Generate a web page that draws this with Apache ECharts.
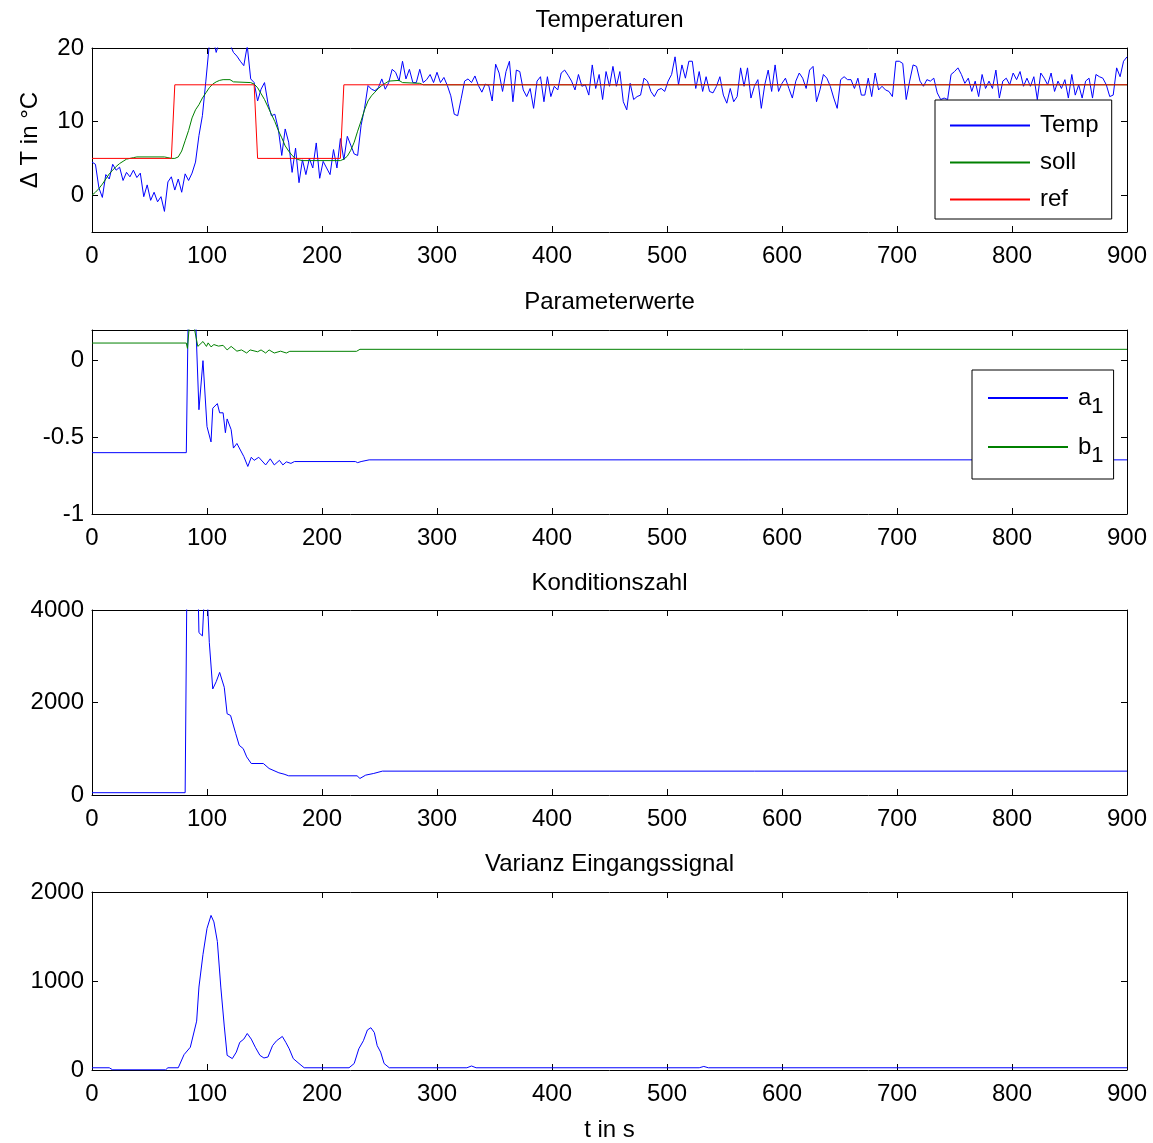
<!DOCTYPE html>
<html><head><meta charset="utf-8">
<script src="https://cdn.jsdelivr.net/npm/echarts@6/dist/echarts.min.js"></script>
<style>html,body{margin:0;padding:0;background:#fff}#c{width:1153px;height:1143px}</style>
</head><body><div id="c"></div>
<script>
// ---------- data ----------
const dt = 3; // sample time of Temp in s
const tempValues = [
 4.5, 4.2, 1.0, -0.3, 2.8, 2.2, 4.2, 3.4, 3.8, 2.0,
 3.1, 2.5, 3.4, 2.4, 3.0, -0.2, 1.4, -0.7, 0.4, -0.9,
 -0.2, -2.2, 1.8, 2.5, 0.7, 2.2, 0.4, 2.9, 2.0, 3.0,
 4.5, 8.1, 10.8, 15.5, 20.5, 21.5, 19.4, 21.0, 22.0, 20.5,
 20.5, 19.4, 18.9, 18.2, 17.6, 20.3, 15.8, 15.3, 12.8, 14.4,
 15.3, 12.5, 10.8, 11.0, 9.0, 5.4, 9.0, 7.2, 3.1, 6.4,
 1.7, 4.8, 2.8, 5.0, 3.7, 7.1, 2.3, 4.6, 3.7, 2.8,
 6.2, 3.7, 7.7, 4.8, 8.0, 6.8, 5.6, 5.4, 9.5, 11.8,
 14.9, 14.4, 14.2, 14.6, 15.8, 14.4, 15.3, 17.1, 16.7, 15.5,
 18.2, 15.8, 17.1, 15.3, 15.3, 17.1, 15.3, 15.7, 16.4, 15.3,
 16.7, 15.3, 16.0, 14.9, 13.5, 11.0, 10.8, 13.1, 15.5, 15.8,
 15.3, 16.2, 14.9, 14.0, 15.1, 14.9, 12.8, 17.8, 16.6, 14.1,
 16.8, 18.2, 12.7, 17.0, 16.8, 14.3, 13.4, 14.5, 11.8, 15.5,
 16.1, 12.7, 16.1, 13.4, 14.8, 14.3, 16.6, 17.0, 16.3, 15.5,
 14.3, 16.4, 14.8, 15.0, 13.6, 17.7, 14.5, 16.4, 13.0, 16.8,
 14.8, 17.5, 14.8, 16.8, 12.7, 11.6, 15.2, 13.0, 13.4, 13.6,
 15.9, 15.5, 14.1, 13.4, 14.3, 14.5, 14.1, 15.5, 16.4, 18.8,
 15.0, 17.7, 15.9, 18.2, 18.2, 14.5, 16.8, 14.1, 16.1, 14.1,
 13.9, 14.8, 16.1, 13.6, 12.5, 14.5, 12.7, 13.4, 17.3, 14.8,
 17.3, 13.2, 14.8, 15.7, 11.8, 15.0, 17.0, 14.1, 17.7, 14.1,
 15.2, 15.9, 14.5, 13.2, 15.5, 16.6, 15.9, 14.5, 17.0, 17.5,
 12.7, 14.3, 16.4, 15.9, 14.8, 13.2, 11.8, 15.7, 16.1, 15.7,
 15.7, 14.5, 15.9, 13.6, 13.6, 15.9, 13.4, 16.6, 14.3, 14.8,
 14.3, 14.1, 13.4, 18.2, 18.2, 17.9, 13.0, 15.5, 17.7, 17.5,
 15.5, 14.8, 15.7, 15.5, 15.9, 13.9, 13.0, 13.2, 13.0, 16.4,
 16.8, 17.3, 16.4, 15.2, 15.9, 14.1, 15.5, 13.4, 16.4, 14.5,
 15.5, 14.5, 17.0, 13.2, 15.5, 15.9, 15.0, 16.6, 15.7, 16.8,
 14.8, 15.9, 14.8, 16.1, 13.0, 16.6, 15.9, 15.0, 16.6, 14.1,
 15.5, 14.5, 15.7, 13.2, 16.4, 13.6, 15.0, 13.2, 15.5, 15.9,
 13.2, 16.4, 16.1, 15.9, 15.0, 13.4, 13.6, 17.3, 16.1, 18.2,
 18.8
];
const sollT = [0,3,6,9,12,15,18,21,24,27,30,33,36,39,63,66,69,72,75,78,81,84,87,90,93,96,99,102,105,108,111,114,120,123,138,141,144,147,150,153,156,159,162,165,168,171,174,177,180,183,216,219,222,225,228,231,234,237,240,243,246,249,252,255,258,267,270,285,288,900];
const sollV = [0,0.4,0.9,1.5,2.2,2.9,3.4,3.9,4.3,4.6,4.9,5.0,5.1,5.2,5.2,5.1,5.0,5.0,5.2,6.0,7.4,8.8,10.5,11.6,12.3,13.2,13.9,14.6,15.1,15.4,15.6,15.7,15.7,15.4,15.3,15.1,14.6,13.8,13.0,12.0,11.0,10.0,8.8,7.8,6.7,6.0,5.4,5.0,4.8,4.7,4.7,4.9,5.3,6.1,7.2,8.7,10.1,11.6,12.8,13.5,14.0,14.5,14.9,15.2,15.5,15.6,15.3,15.2,15.0,15.0];
const refT = [0,69,72,141,144,216,219,900];
const refV = [5,5,15,15,5,5,15,15];

const a1T = [0,82,84,89,93,96.5,100,103.5,105,109,111,114,116,117.5,121,123,126,132,135.5,138.5,141,145,151,155,158.5,163,166,169,173,176,229,231,234,241,900];
const a1V = [-0.6,-0.6,0.5,0.5,-0.32,0.0,-0.43,-0.53,-0.31,-0.28,-0.34,-0.34,-0.47,-0.38,-0.45,-0.57,-0.54,-0.625,-0.69,-0.63,-0.65,-0.63,-0.68,-0.64,-0.68,-0.65,-0.68,-0.66,-0.67,-0.658,-0.658,-0.665,-0.658,-0.647,-0.647];
const b1T = [0,82,83,86,89,92,96.5,99.5,101,103.5,106,110,114,117.5,121,126,130,134.5,137.5,144,147,151,154,158.5,164,169,172,230,233,900];
const b1V = [0.115,0.115,0.08,0.35,0.21,0.093,0.125,0.093,0.116,0.09,0.105,0.095,0.1,0.07,0.093,0.062,0.07,0.05,0.07,0.058,0.07,0.05,0.07,0.05,0.062,0.05,0.061,0.061,0.074,0.074];

const kondT = [0,81,84,90,93,96,99,102,105,108,111,115,117.5,120.5,125,128,131.5,134.5,138.5,149,154,162.5,167,171,230.5,233,238,245,252.5,900];
const kondV = [50,50,9000,7000,3510,3440,5000,3300,2293,2450,2651,2329,1756,1720,1326,1075,1003,824,681,681,573,480,451,415,415,358,430,466,516,516];

const varT = [0,15,18,64,66,75,80,85.5,91,93,96.5,100,103.5,106,109,112,115,117.5,122,125.5,128.5,132,135,138.5,142,146,149.5,153,157,160.5,165.5,168.5,171.5,175,180,184.5,223.5,228,232,236,239.5,242.5,245.5,248,251,254,258.5,326,330,334,528,532,536,900];
const varV = [25,25,2,2,25,25,172,256,549,932,1298,1591,1737,1664,1444,932,494,165,128,201,311,347,410,347,256,165,135,146,274,329,377,311,238,128,73,25,25,73,238,329,450,475,421,274,201,73,25,25,45,25,25,40,25,25];

const titles = ['Temperaturen', 'Parameterwerte', 'Konditionszahl', 'Varianz Eingangssignal'];
const xTicks = [0, 900, 100];            // min, max, interval
const yTicks = [[0, 10, 20], [-1, -0.5, 0], [0, 2000, 4000], [0, 1000, 2000]];
const yRange = [[-5, 20], [-1, 0.2], [0, 4000], [0, 2000]];
const yName = 'Δ T in °C';
const xName = 't in s';

// ---------- chart ----------
const FONT = 'Liberation Sans, Arial, sans-serif';
const FS = 24;
const gridTops = [48, 330, 610, 892];
const gridH = [184, 184, 185, 184];
const zip = (t, v) => t.map((x, i) => [x, v[i]]);
const tempData = tempValues.map((v, i) => [i * dt, v]);

const grid = gridTops.map((t, i) => ({ left: 92, top: t, width: 1035, height: gridH[i], show: false }));
const xAxis = [], yAxis = [];
for (let i = 0; i < 4; i++) {
  const base = {
    type: 'value', gridIndex: i, min: xTicks[0], max: xTicks[1], interval: xTicks[2],
    axisLine: { show: true, onZero: false, lineStyle: { color: '#000', width: 1 } },
    axisTick: { show: true, inside: true, length: 6, lineStyle: { color: '#000' } },
    splitLine: { show: false }
  };
  xAxis.push(Object.assign({}, base, {
    position: 'bottom',
    axisLabel: { show: true, color: '#000', fontSize: FS, fontFamily: FONT, margin: 12, showMinLabel: true, showMaxLabel: true, hideOverlap: false, formatter: v => String(v) },
    name: i === 3 ? xName : '', nameLocation: 'middle', nameGap: 48,
    nameTextStyle: { color: '#000', fontSize: FS, fontFamily: FONT }
  }));
  xAxis.push(Object.assign({}, base, { position: 'top', axisLabel: { show: false } }));
  const ybase = {
    type: 'value', gridIndex: i, min: yRange[i][0], max: yRange[i][1],
    axisLine: { show: true, onZero: false, lineStyle: { color: '#000', width: 1 } },
    axisTick: { show: true, inside: true, length: 6, customValues: yTicks[i], lineStyle: { color: '#000' } },
    splitLine: { show: false }
  };
  yAxis.push(Object.assign({}, ybase, {
    position: 'left',
    axisLabel: { show: true, customValues: yTicks[i], color: '#000', fontSize: FS, fontFamily: FONT, margin: 8,
      verticalAlign: 'middle', verticalAlignMinLabel: 'middle', verticalAlignMaxLabel: 'middle', hideOverlap: false,
      formatter: v => String(v) },
    name: i === 0 ? yName : '', nameLocation: 'middle', nameGap: 50, nameRotate: 90,
    nameTextStyle: { color: '#000', fontSize: FS, fontFamily: FONT }
  }));
  yAxis.push(Object.assign({}, ybase, { position: 'right', axisLabel: { show: false } }));
}

const line = (name, data, color, gi) => ({
  name, type: 'line', data, xAxisIndex: gi * 2, yAxisIndex: gi * 2,
  symbol: 'none', showSymbol: false, clip: true, animation: false,
  lineStyle: { color, width: 1 }, itemStyle: { color }
});

const series = [
  line('Temp', tempData, '#0000ff', 0),
  line('soll', zip(sollT, sollV), '#008000', 0),
  line('ref', zip(refT, refV), '#ff0000', 0),
  line('a1', zip(a1T, a1V), '#0000ff', 1),
  line('b1', zip(b1T, b1V), '#008000', 1),
  line('Konditionszahl', zip(kondT, kondV), '#0000ff', 2),
  line('Varianz', zip(varT, varV), '#0000ff', 3)
];

const titleCenters = [19, 301, 582, 863];
const title = titles.map((t, i) => ({
  text: t, left: 609.5, top: titleCenters[i] - 11, textAlign: 'center', padding: 0,
  textStyle: { color: '#000', fontSize: FS, fontWeight: 'normal', fontFamily: FONT }
}));

const legend = [
  {
    data: ['Temp', 'soll', 'ref'], orient: 'vertical', left: 935, top: 100,
    icon: 'rect', itemWidth: 80, itemHeight: 2, itemGap: 10,
    padding: [12, 13, 6, 15],
    backgroundColor: '#fff', borderColor: '#000', borderWidth: 1, borderRadius: 0,
    textStyle: { color: '#000', fontSize: FS, fontFamily: FONT, padding: [2, 0, 0, 5], lineHeight: 25 },
    selectedMode: false
  },
  {
    data: ['a1', 'b1'], orient: 'vertical', left: 972, top: 370,
    icon: 'rect', itemWidth: 80, itemHeight: 2, itemGap: 17,
    padding: [16, 10, 12, 16],
    backgroundColor: '#fff', borderColor: '#000', borderWidth: 1, borderRadius: 0,
    formatter: n => '{m|' + n.charAt(0) + '}{s|' + n.slice(1) + '}',
    textStyle: {
      color: '#000', fontSize: FS, fontFamily: FONT, padding: [0, 0, 0, 5],
      rich: {
        m: { fontSize: FS, fontFamily: FONT, color: '#000' },
        s: { fontSize: 22, fontFamily: FONT, color: '#000', padding: [18, 0, 0, 0] }
      }
    },
    selectedMode: false
  }
];

const chart = echarts.init(document.getElementById('c'), null, { renderer: 'canvas' });
chart.setOption({
  animation: false, backgroundColor: '#fff',
  title, legend, grid, xAxis, yAxis, series
});
</script></body></html>
